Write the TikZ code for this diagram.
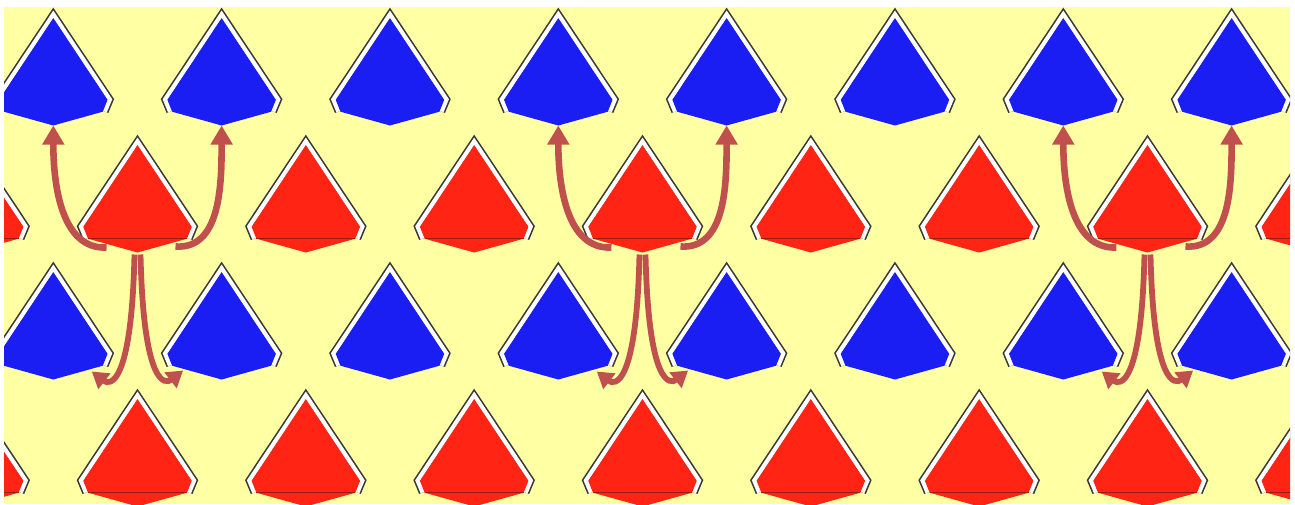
\documentclass[tikz,border=0pt]{standalone}
\usetikzlibrary{arrows.meta,calc}
\definecolor{bgy}{HTML}{FFFFA3}
\definecolor{tblue}{HTML}{1A1EF2}
\definecolor{tred}{HTML}{FF2414}
\definecolor{arrc}{HTML}{C0504D}
\definecolor{rline}{HTML}{A01A10}
\tikzset{
  roofdark/.style={line width=7.6pt, draw=black!78, line join=miter},
  roofwhite/.style={line width=4.4pt, draw=white, line join=miter},
  pics/tile/.style={code={
    \draw[roofdark] (-51.5,97) -- (-56.5,85) -- (0,0) -- (56.5,85) -- (51.5,97);
    \draw[roofwhite] (-51.5,97) -- (-56.5,85) -- (0,0) -- (56.5,85) -- (51.5,97);
    \fill[#1] (-49.5,97.2) -- (-54.2,85.3) -- (0,3.6) -- (54.2,85.3) -- (49.5,97.2) -- (0,111) -- cycle;
    \coordinate (-bot) at (0,111);
    \coordinate (-lh) at (-51.5,97);
    \coordinate (-rh) at (51.5,97);
  }},
  redline/.style={draw=rline, line width=1pt},
  upar/.style={draw=arrc, line width=6.6pt, -{Triangle[length=19pt,width=21pt]}},
  downar/.style={draw=arrc, line width=5.8pt, -{Triangle[length=16pt,width=19pt]}},
}
\begin{document}
\begin{tikzpicture}[x=1pt, y=-1pt]
\useasboundingbox (0,0) rectangle (1295,504);
\fill[white] (0,0) rectangle (1295,504);
\begin{scope}
\clip (4,6.5) rectangle (1290,504);
\fill[bgy] (4,6.5) rectangle (1290,504);
\foreach \k in {0,...,7} {
  \pic (ba\k) at ({53.3+168.33*\k},14.5) {tile=tblue};
  \pic (bb\k) at ({53.3+168.33*\k},268.5) {tile=tblue};
}
\foreach \k in {-1,...,7} {
  \pic (ra\k) at ({137.5+168.33*\k},141.5) {tile=tred};
  \draw[redline] ($(ra\k-lh)+(2,0)$) -- ($(ra\k-rh)+(-2,0)$);
  \pic (rb\k) at ({137.5+168.33*\k},395.5) {tile=tred};
  \draw[redline] ($(rb\k-lh)+(2,0)$) -- ($(rb\k-rh)+(-2,0)$);
}
\foreach \g [evaluate=\g as \h using int(\g+1)] in {0,3,6} {
  \draw[upar] ($(ra\g-bot)+(-31,-5)$) .. controls +(-45,2) and +(0,60) .. (ba\g-bot);
  \draw[upar] ($(ra\g-bot)+(38,-6)$) .. controls +(45,3) and +(0,60) .. (ba\h-bot);
  \draw[downar] ($(ra\g-bot)+(-3,2)$) .. controls +(-3,132) and +(18,14) .. ($(bb\g-rh)+(-13,6)$);
  \draw[downar] ($(ra\g-bot)+(3,2)$) .. controls +(3,132) and +(-18,14) .. ($(bb\h-lh)+(13,5)$);
}
\end{scope}
\end{tikzpicture}
\end{document}
